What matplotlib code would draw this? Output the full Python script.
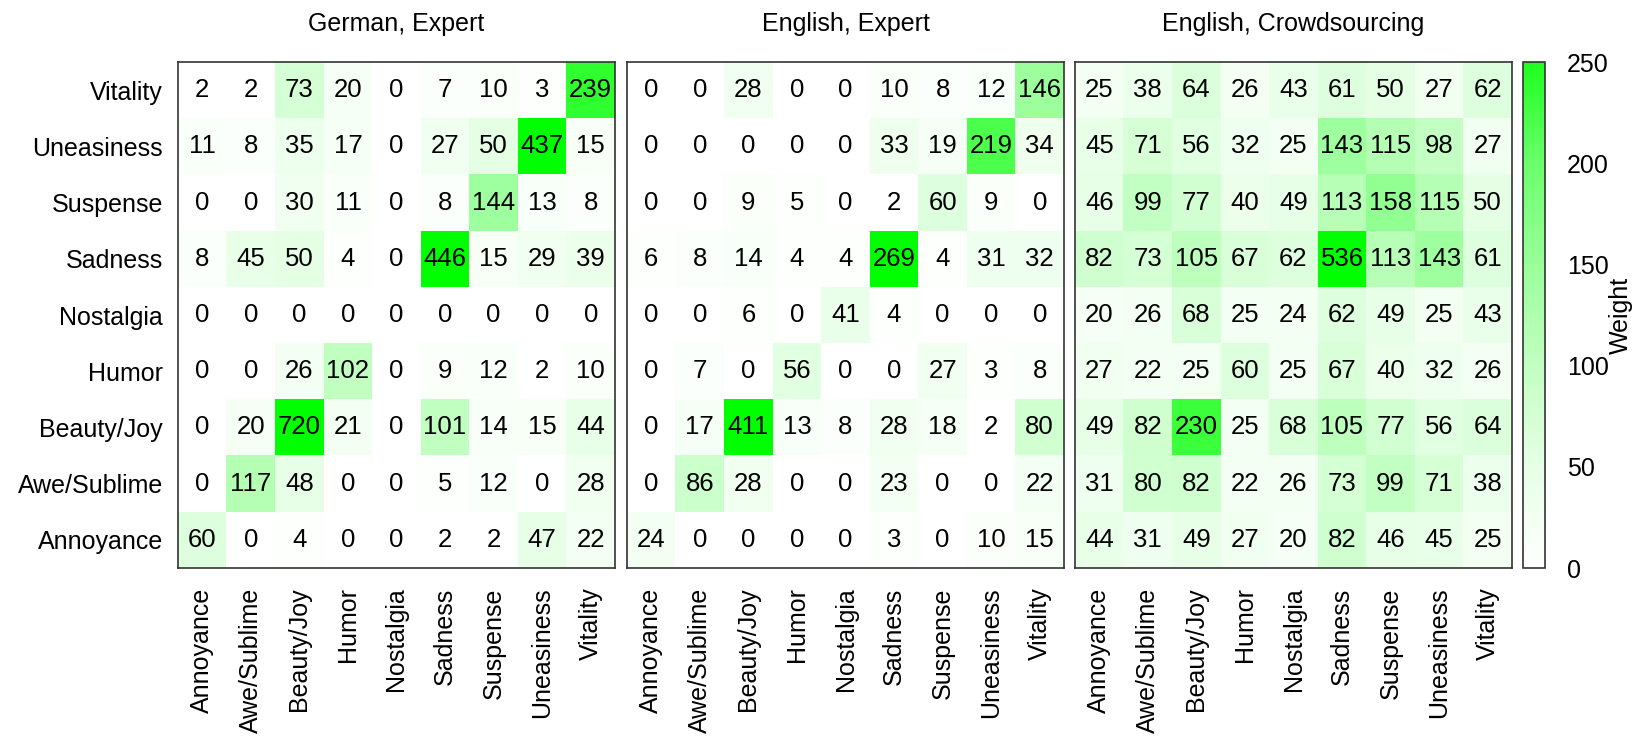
import numpy as np
import matplotlib
matplotlib.use('Agg')
import matplotlib.pyplot as plt
from matplotlib.colors import LinearSegmentedColormap, Normalize

plt.rcParams['font.family'] = ['Liberation Sans', 'DejaVu Sans']
plt.rcParams['font.size'] = 18

# emotion labels, bottom row / first column first
emotions = ['Annoyance', 'Awe/Sublime', 'Beauty/Joy', 'Humor', 'Nostalgia',
            'Sadness', 'Suspense', 'Uneasiness', 'Vitality']

titles = ['German, Expert', 'English, Expert', 'English, Crowdsourcing']

# rows listed top to bottom as drawn (Vitality ... Annoyance)
german_expert = [
    [2, 2, 73, 20, 0, 7, 10, 3, 239],
    [11, 8, 35, 17, 0, 27, 50, 437, 15],
    [0, 0, 30, 11, 0, 8, 144, 13, 8],
    [8, 45, 50, 4, 0, 446, 15, 29, 39],
    [0, 0, 0, 0, 0, 0, 0, 0, 0],
    [0, 0, 26, 102, 0, 9, 12, 2, 10],
    [0, 20, 720, 21, 0, 101, 14, 15, 44],
    [0, 117, 48, 0, 0, 5, 12, 0, 28],
    [60, 0, 4, 0, 0, 2, 2, 47, 22],
]

english_expert = [
    [0, 0, 28, 0, 0, 10, 8, 12, 146],
    [0, 0, 0, 0, 0, 33, 19, 219, 34],
    [0, 0, 9, 5, 0, 2, 60, 9, 0],
    [6, 8, 14, 4, 4, 269, 4, 31, 32],
    [0, 0, 6, 0, 41, 4, 0, 0, 0],
    [0, 7, 0, 56, 0, 0, 27, 3, 8],
    [0, 17, 411, 13, 8, 28, 18, 2, 80],
    [0, 86, 28, 0, 0, 23, 0, 0, 22],
    [24, 0, 0, 0, 0, 3, 0, 10, 15],
]

english_crowd = [
    [25, 38, 64, 26, 43, 61, 50, 27, 62],
    [45, 71, 56, 32, 25, 143, 115, 98, 27],
    [46, 99, 77, 40, 49, 113, 158, 115, 50],
    [82, 73, 105, 67, 62, 536, 113, 143, 61],
    [20, 26, 68, 25, 24, 62, 49, 25, 43],
    [27, 22, 25, 60, 25, 67, 40, 32, 26],
    [49, 82, 230, 25, 68, 105, 77, 56, 64],
    [31, 80, 82, 22, 26, 73, 99, 71, 38],
    [44, 31, 49, 27, 20, 82, 46, 45, 25],
]

# white -> green, anything above 250 saturates
greens = LinearSegmentedColormap.from_list('wg', [
    (0.0, (1.0, 1.0, 1.0)),
    (0.2, (0.90, 1.0, 0.90)),
    (0.4, (0.76, 1.0, 0.76)),
    (0.6, (0.60, 1.0, 0.60)),
    (0.8, (0.42, 1.0, 0.42)),
    (1.0, (0.12, 1.0, 0.12)),
])
greens.set_over((0.0, 1.0, 0.0))
norm = Normalize(vmin=0, vmax=250)

fig = plt.figure(figsize=(16.41, 7.36), dpi=100)
W, H = 1641.0, 736.0
lefts = [178, 627, 1075]
pw = 437
top, bottom = 62, 568

im = None
for k, (mat, title) in enumerate(zip([german_expert, english_expert, english_crowd], titles)):
    ax = fig.add_axes([lefts[k] / W, 1 - bottom / H, pw / W, (bottom - top) / H])
    data = np.array(mat)
    im = ax.imshow(data, cmap=greens, norm=norm, aspect='auto', interpolation='nearest')
    for i in range(data.shape[0]):
        for j in range(data.shape[1]):
            ax.text(j, i, str(data[i, j]), ha='center', va='center', fontsize=18.5, color='black')
    ax.set_xticks(np.arange(len(emotions)))
    ax.set_xticklabels(emotions, rotation=90)
    ax.set_yticks(np.arange(len(emotions)))
    if k == 0:
        ax.set_yticklabels(emotions[::-1])
    else:
        ax.set_yticklabels([])
    ax.tick_params(length=0, pad=11)
    ax.tick_params(axis='x', pad=14)
    ax.set_title(title, fontsize=18, pad=22)
    for s in ax.spines.values():
        s.set_color('#333333')
        s.set_linewidth(1.2)

cax = fig.add_axes([1523 / W, 1 - bottom / H, 22 / W, (bottom - top) / H])
cb = fig.colorbar(im, cax=cax, ticks=[0, 50, 100, 150, 200, 250])
cb.ax.tick_params(length=0, pad=16, labelsize=18)
cb.set_label('Weight', fontsize=18, labelpad=0)
cb.outline.set_edgecolor('#333333')
cb.outline.set_linewidth(1.2)

fig.savefig('out.png', dpi=100)
